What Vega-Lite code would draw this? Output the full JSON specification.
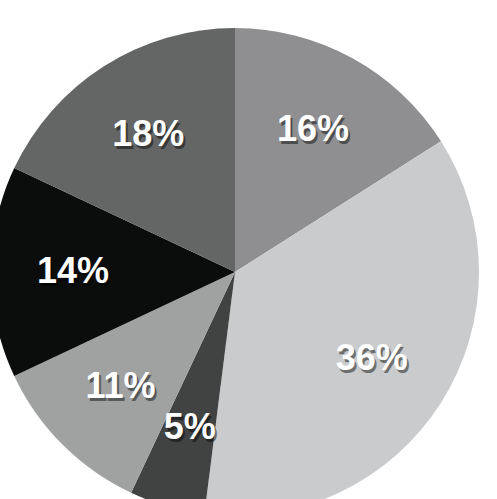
{
  "$schema": "https://vega.github.io/schema/vega-lite/v6.json",
  "autosize": "none",
  "width": 470,
  "height": 454,
  "padding": {"left": 0, "top": 45, "right": 27, "bottom": 0},
  "background": "white",
  "view": {"stroke": null},
  "data": {
    "values": [
      {"order": 1, "label": "16%", "value": 16},
      {"order": 2, "label": "36%", "value": 36},
      {"order": 3, "label": "5%", "value": 5},
      {"order": 4, "label": "11%", "value": 11},
      {"order": 5, "label": "14%", "value": 14},
      {"order": 6, "label": "18%", "value": 18}
    ]
  },
  "encoding": {
    "theta": {"field": "value", "type": "quantitative", "stack": true},
    "order": {"field": "order", "type": "quantitative"}
  },
  "layer": [
    {
      "mark": {"type": "arc", "outerRadius": 244},
      "encoding": {
        "color": {
          "field": "label",
          "type": "nominal",
          "scale": {
            "domain": ["16%", "36%", "5%", "11%", "14%", "18%"],
            "range": ["#8f8f91", "#c9cbcc", "#414343", "#a0a1a1", "#0b0c0c", "#646565"]
          },
          "legend": null
        }
      }
    },
    {
      "mark": {"type": "text", "radius": 162, "font": "Liberation Sans", "fontWeight": "bold", "fontSize": 36, "fill": "black", "opacity": 0.45, "dx": 2, "dy": 3, "baseline": "middle"},
      "encoding": {"text": {"field": "label"}}
    },
    {
      "mark": {"type": "text", "radius": 162, "font": "Liberation Sans", "fontWeight": "bold", "fontSize": 36, "fill": "white", "baseline": "middle"},
      "encoding": {"text": {"field": "label"}}
    }
  ]
}
